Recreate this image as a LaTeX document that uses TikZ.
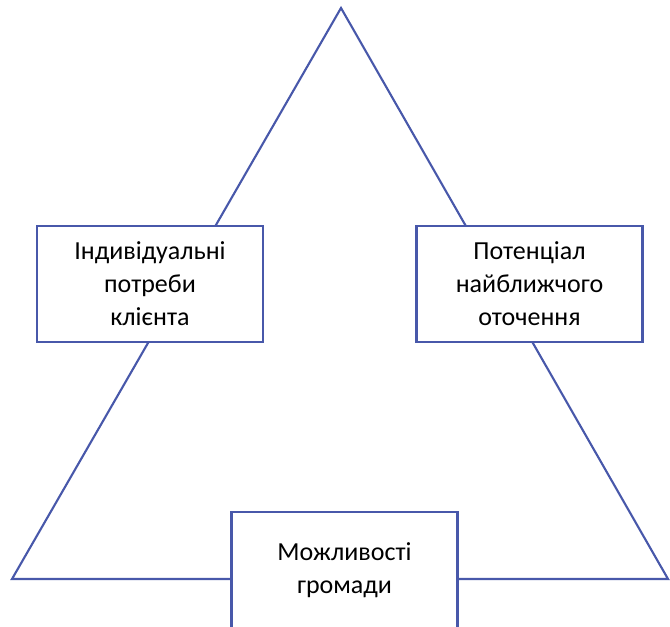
\documentclass[tikz,border=0pt]{standalone}
\usepackage{fontspec}
\setmainfont{Carlito}
\usepackage{tikz}
\usetikzlibrary{positioning}
\usepackage{xcolor}
\definecolor{edgeblue}{RGB}{72, 88, 170}

\begin{document}
\begin{tikzpicture}[
		factor/.style={rectangle, draw=edgeblue, line width=1.2pt, fill=white, minimum width=4.52cm, minimum height=2.32cm, inner sep=0pt, align=center, font=\fontsize{14.8}{18.7}\selectfont},
		side/.style={draw=edgeblue, line width=1.2pt, line join=miter}
	]
	\useasboundingbox (0,0) rectangle (13.4,12.54);
	\coordinate (top) at (6.82,12.38);
	\coordinate (left) at (0.24,0.96);
	\coordinate (right) at (13.36,0.96);
	\draw[side] (top) -- (left) -- (right) -- cycle;
	\node[factor] (client) at (3.0,6.86) {Індивідуальні\\потреби\\клієнта};
	\node[factor] (circle) at (10.59,6.86) {Потенціал\\найближчого\\оточення};
	\node[factor] (hromada) at (6.89,1.14) {Можливості\\громади};
\end{tikzpicture}
\end{document}
